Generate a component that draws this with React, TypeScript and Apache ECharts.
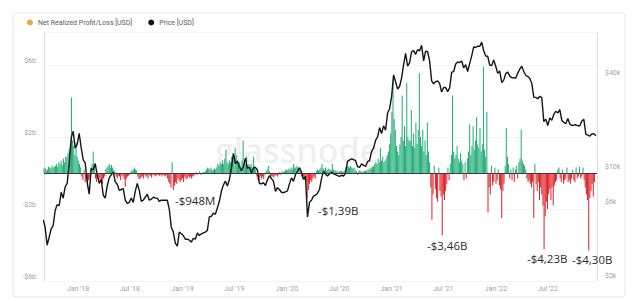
import { useEffect, useRef } from 'react';
import * as echarts from 'echarts';

// ---------- DATA ----------
const NRPL_NAME = 'Net Realized Profit/Loss [USD]';
const PRICE_NAME = 'Price [USD]';

// Net realized profit/loss in $ billions, one value every 4 days from 2017-09-04
const nrplPart1 = [
  0.25, 0.3, 0.15, 0.2, 0.35, 0.3, 0.25, 0.4, 0.3, 0.35,
  0.4, 0.5, 0.35, 0.6, 0.5, 0.7, 0.45, 0.8, 0.6, 0.9,
  0.9, 1.1, 1.3, 1.6, 4.2, 1.8, 1.5, 1.0, 1.7, 0.9,
  0.7, 0.5, 0.3, -0.2, -0.4, 0.2, -0.5, -0.3, -0.75, -0.4,
  -0.3, 0.3, 0.5, 1.2, 0.4, -0.3, -0.5, -0.2, -0.4, -0.3,
  -0.5, -0.6, -0.3, -0.2, 0.2, 0.3, 0.4, 0.5, 0.3, 0.45,
  0.3, 0.2, 0.1, -0.2, -0.3, -0.15, -0.2, -0.4, -0.1, -0.2,
  -0.35, -0.75, -0.3, -0.2, -0.15, -0.1, 0.1, 0.15, 0.2, 0.3,
  0.2, 0.15, -0.2, -0.35, -0.3, -0.25, -0.15, -0.3, -0.1, -0.2,
  -0.2, -0.3, -0.1, -0.15, -0.25, -0.1, -0.1, -0.2, -0.15, -0.1,
  -0.1, -0.15, -0.1, -0.2, -0.1, -0.15, -0.2, -0.1, -0.3, -0.5,
  -0.6, -0.8, 0.6, -0.95, -0.7, -0.5, -0.6, -0.3, -0.4, -0.5,
];
const nrplPart2 = [
  -0.4, -0.3, -0.5, -0.2, -0.3, -0.35, -0.2, -0.25, -0.2, -0.3,
  -0.2, -0.15, -0.1, 0.05, -0.1, -0.05, 0.1, -0.1, -0.05, 0.05,
  0.05, 0.1, 0.2, 0.3, 0.25, 0.2, 0.3, 0.15, 0.2, 0.25,
  0.2, 0.3, 0.5, 0.4, 0.6, 0.5, 0.7, 0.5, 0.8, 1.3,
  0.6, 0.5, 0.7, 0.6, 0.9, 0.7, 0.8, 1.4, 1.0, 0.7,
  0.5, 0.6, 0.4, 0.7, 1.8, 0.6, 0.5, 0.9, 0.4, 0.5,
  0.4, 0.5, 0.3, 0.9, 0.4, 0.2, -0.2, -0.4, -0.3, -0.2,
  -0.3, -0.2, -0.35, -0.1, 0.1, 0.2, 0.4, 0.1, -0.15, -0.2,
  -0.2, -0.25, -0.15, -0.1, -0.2, -0.1, 0.05, -0.1, 0.1, 0.05,
  0.1, 0.15, 0.2, 0.15, 0.25, 0.2, 0.3, 0.2, 0.5, 0.3,
  0.3, 0.4, 0.3, 0.2, 0.1, -0.2, -0.3, -0.2, -0.4, -0.5,
  -1.39, -0.95, -0.6, -0.4, -0.5, -0.3, -0.2, -0.3, 0.1, 0.2,
  0.15, 0.2, 0.3, 0.5, 0.25, 0.2, 0.3, 0.15, 0.2, 0.25,
  0.2, 0.15, 0.5, 0.2, 0.1, 0.15, 0.1, 0.05, 0.1, 0.1,
  0.1, 0.05, 0.1, 0.15, 0.3, 0.4, 0.35, 0.3, 0.4, 0.3,
  0.25, 0.3, 0.15, 0.1, -0.1, 0.1, 0.15, 0.1, 0.05, 0.1,
  0.1, 0.15, 0.1, 0.2, 0.2, 0.3, 0.25, 0.35, 0.4, 0.5,
  0.6, 0.5, 0.8, 0.6, 1.4, 0.7, 0.9, 0.6, 0.7, 0.8,
];
const nrplPart3 = [
  1.0, 1.2, 1.6, 2.2, 3.4, 5.2, 3.0, 2.4, 1.5, 1.2,
  1.0, 1.6, 2.0, 4.3, 1.8, 2.6, 1.5, 5.0, 2.0, 1.8,
  1.8, 3.5, 1.5, 2.2, 1.4, 2.8, 1.6, 2.4, 5.55, 2.0,
  1.5, 2.4, 1.2, 1.8, 1.0, 2.8, 1.2, 0.6, -0.8, -2.6,
  -1.2, 0.4, -0.9, -1.4, -1.6, 0.3, -1.0, -1.3, -3.46, -1.2,
  -1.5, -1.0, -0.6, 0.3, -0.4, 0.5, 1.0, 4.3, 1.2, 0.8,
  1.0, 1.5, 0.8, 0.6, 1.1, 0.7, 0.5, -0.4, 0.6, -0.3,
  0.8, 1.2, 2.7, 1.0, 1.5, 2.6, 1.3, 1.8, 3.1, 1.6,
  1.4, 2.5, 1.2, 1.6, 5.9, 1.3, 0.9, 3.4, -2.2, -0.8,
  -1.2, 0.4, -0.7, -0.5, 0.3, -0.6, -0.4, 0.2, -0.7, -0.9,
  -2.5, -1.0, -0.6, 0.4, 2.5, 0.9, 0.5, -0.3, 0.2, -0.4,
  0.3, -0.5, 0.2, 0.4, -0.3, 0.6, 0.8, 2.4, 0.7, 0.5,
  0.4, 0.2, -0.3, -0.5, -0.4, -0.6, -0.8, -0.5, -2.5, 0.5,
  -0.6, -1.0, -0.5, -1.5, -0.8, -1.2, -1.8, -4.23, -2.4, -1.6,
  -2.0, -1.2, -0.9, -1.5, -0.8, -1.8, -0.7, -0.5, -0.4, 0.2,
  0.3, -0.3, -0.5, 0.2, -0.6, -0.4, -0.3, 0.3, -0.5, -0.4,
  -0.6, -0.3, 0.2, -0.4, -0.5, 0.3, -0.3, -0.2, 0.35, -0.3,
  -0.2, 0.3, -0.4, -0.8, -1.2, -1.5, -4.3, -1.4, -1.0, -0.6,
  -1.3, -0.5,
];

// BTC price (USD), weekly from 2017-09-01
const price2017 = [4800, 4300, 3300, 3700, 4200, 4400, 5500, 6000, 5900, 7200, 6600, 7800, 8200, 10900, 16000, 17700, 13800, 14600];
const price2018 = [
  17200, 13900, 11600, 11100, 8300, 7000, 10200, 10000, 11000, 9300, 8200, 8700, 6900, 6600, 7900, 8900,
  9300, 9700, 8400, 8100, 7400, 7500, 7600, 6400, 6100, 6200, 6600, 6200, 7300, 8200, 7400, 6300,
  6400, 6700, 7000, 6400, 6500, 6700, 6600, 6600, 6300, 6400, 6400, 6400, 6400, 5600, 4300, 4000,
  3400, 3250, 4000, 3900,
];
const price2019 = [
  3800, 3600, 3600, 3550, 3450, 3650, 3600, 3950, 3800, 3900, 3950, 4000, 4100, 5000, 5050, 5300,
  5200, 5700, 6300, 7300, 8000, 8500, 7900, 8700, 10200, 12800, 11000, 11400, 10500, 9900, 10500, 11900,
  10300, 10400, 9600, 10300, 10400, 10000, 8200, 8150, 8300, 7950, 8650, 9200, 8800, 8500, 7300, 7700,
  7500, 7200, 7150, 7250,
];
const price2020 = [
  7350, 8150, 8900, 8450, 9350, 9800, 10350, 9700, 8700, 9100, 5000, 6200, 6400, 6800, 6900, 7100,
  7500, 8800, 9800, 9400, 9150, 9450, 9650, 9450, 9350, 9200, 9100, 9250, 9150, 9550, 11350, 11600,
  11800, 11650, 11500, 10500, 10400, 10950, 10700, 10550, 11300, 11500, 13100, 13800, 15500, 16300, 18700, 17100,
  19200, 18000, 23200, 24700,
];
const price2021 = [
  29400, 40700, 36800, 33000, 34300, 38900, 47400, 55900, 46300, 48800, 57300, 58200, 55100, 59000, 58100, 63000,
  50000, 57800, 57300, 49700, 37300, 35700, 36900, 37300, 35800, 31600, 33800, 33800, 31800, 33600, 42200, 42800,
  47800, 49300, 48900, 50000, 45200, 47300, 42800, 48200, 53900, 61500, 61000, 62200, 62000, 66000, 58100, 53700,
  53600, 47100, 46700, 50800, 46200,
];
const price2022 = [
  41600, 43100, 36300, 37700, 41500, 42400, 40000, 39100, 39000, 38800, 41800, 44300, 46300, 42800, 40500, 39700,
  38600, 36000, 29300, 29200, 28600, 29700, 29100, 20400, 21200, 19300, 21600, 20800, 22700, 23800, 23200, 24400,
  20800, 20200, 19800, 21400, 19700, 19300, 19400, 19500, 19200, 19200, 20600, 21100, 17000, 16700, 16500, 17000,
  17100, 16600,
];

const leftTickValues = [-6, -2, 2, 6];
const leftTickLabels = ['-$6b', '-$2b', '$2b', '$6b'];
const priceTickValues = [2000, 6000, 10000, 40000];
const priceTickLabels = ['$2k', '$6k', '$10k', '$40k'];
const xTickDates: [number, number][] = [
  [2018, 0], [2018, 6], [2019, 0], [2019, 6], [2020, 0], [2020, 6], [2021, 0], [2021, 6], [2022, 0], [2022, 6],
];
const MONTHS = ['Jan', 'Feb', 'Mar', 'Apr', 'May', 'Jun', 'Jul', 'Aug', 'Sep', 'Oct', 'Nov', 'Dec'];
const annotations = ['-$948M', '-$1,39B', '-$3,46B', '-$4,23B', '-$4,30B'];

// ---------- BUILD ----------
const nrplValues = [...nrplPart1, ...nrplPart2, ...nrplPart3];
const priceValues = [...price2017, ...price2018, ...price2019, ...price2020, ...price2021, ...price2022];
const nrplData = nrplValues.map((v, i) => [new Date(2017, 8, 4 + 4 * i).getTime(), v]);
const priceData = priceValues.map((v, i) => [new Date(2017, 8, 1 + 7 * i).getTime(), v]);
const xTickValues = xTickDates.map(([y, m]) => new Date(y, m, 1).getTime());

const GREEN = '#1fab74';
const RED = '#dc1f26';
const ORANGE = '#f2a53c';
const LABEL = '#a3a3a3';
const FONT = 'Roboto';

const annotationPos = [
  [175, 200], [318, 210], [427, 245], [527, 258], [572, 259],
];

export default function App() {
  const ref = useRef<HTMLDivElement>(null);
  useEffect(() => {
    if (!ref.current) return;
    const chart = echarts.init(ref.current, null, { renderer: 'svg' });
    const option: any = {
      animation: false,
      backgroundColor: '#ffffff',
      textStyle: { fontFamily: FONT },
      legend: {
        left: 27,
        top: 19,
        padding: 0,
        itemGap: 16,
        itemWidth: 6,
        itemHeight: 6,
        textStyle: { fontSize: 7, color: '#5a5a5a', fontFamily: FONT },
        data: [
          { name: NRPL_NAME, icon: 'circle', itemStyle: { color: ORANGE } },
          { name: PRICE_NAME, icon: 'circle', itemStyle: { color: '#111111' } },
        ],
      },
      grid: { left: 44, width: 553, top: 32, height: 249, containLabel: false },
      xAxis: {
        type: 'value',
        min: new Date(2017, 8, 4).getTime(),
        max: new Date(2022, 11, 20).getTime(),
        axisLine: { show: false },
        axisTick: { show: false },
        splitLine: { show: false },
        axisLabel: {
          customValues: xTickValues,
          fontSize: 7,
          color: LABEL,
          margin: 4,
          fontFamily: FONT,
          formatter: (val: number) => {
            const d = new Date(val);
            return MONTHS[d.getMonth()] + " '" + String(d.getFullYear()).slice(2);
          },
        },
      },
      yAxis: [
        {
          type: 'value',
          min: -6,
          max: -6 + 249 / 18,
          interval: 4,
          position: 'left',
          axisLine: { show: true, lineStyle: { color: '#dedede' } },
          axisTick: { show: false },
          splitLine: { show: true, lineStyle: { color: '#f4f4f4' } },
          axisLabel: {
            fontSize: 7,
            color: LABEL,
            margin: 8,
            verticalAlign: 'bottom',
            lineHeight: 8,
            fontFamily: FONT,
            formatter: (v: number) => {
              const idx = leftTickValues.findIndex((t) => Math.abs(t - v) < 1e-6);
              return idx >= 0 ? leftTickLabels[idx] : '';
            },
          },
        },
        {
          type: 'log',
          logBase: 10,
          min: 1943,
          max: 76660,
          position: 'right',
          axisLine: { show: true, lineStyle: { color: '#dedede' } },
          axisTick: { show: false },
          splitLine: { show: false },
          axisLabel: { show: false },
        },
      ],
      series: [
        {
          name: NRPL_NAME,
          type: 'bar',
          yAxisIndex: 0,
          barWidth: 0.95,
          data: nrplData,
          z: 2,
          itemStyle: {
            color: (p: any) => (p.value[1] >= 0 ? GREEN : RED),
          },
          markLine: {
            silent: true,
            symbol: ['none', 'none'],
            label: { show: false },
            lineStyle: { color: '#3a3a3a', width: 1, type: 'solid' },
            data: [{ yAxis: 0 }],
          },
        },
        {
          name: PRICE_NAME,
          type: 'line',
          yAxisIndex: 1,
          data: priceData,
          showSymbol: false,
          symbol: 'none',
          z: 4,
          lineStyle: { color: '#151515', width: 1.4 },
          itemStyle: { color: '#151515' },
        },
      ],
    };
    chart.setOption(option);

    const graphics: any[] = [
      {
        type: 'rect',
        z: 0,
        silent: true,
        shape: { x: 13, y: 13, width: 612, height: 284, r: 3 },
        style: { fill: 'none', stroke: '#e6e6e6', lineWidth: 1 },
      },
      {
        type: 'text',
        z: 1,
        silent: true,
        x: 215,
        y: 150,
        style: {
          text: 'glassnode',
          fontSize: 34,
          fontFamily: 'Open Sans',
          fontWeight: 600,
          fill: 'rgba(0,0,0,0.07)',
          verticalAlign: 'middle',
        },
      },
    ];
    annotations.forEach((t, i) => {
      graphics.push({
        type: 'text',
        z: 100,
        silent: true,
        x: annotationPos[i][0],
        y: annotationPos[i][1],
        style: {
          text: t,
          fontSize: 11.5,
          fontFamily: 'Open Sans',
          fill: '#2b2b2b',
          verticalAlign: 'middle',
        },
      });
    });
    priceTickValues.forEach((v, i) => {
      const y = chart.convertToPixel({ yAxisIndex: 1 } as any, v) as unknown as number;
      graphics.push({
        type: 'text',
        z: 100,
        silent: true,
        x: 605,
        y: y - 3,
        style: {
          text: priceTickLabels[i],
          fontSize: 7,
          fontFamily: FONT,
          fill: LABEL,
          verticalAlign: 'middle',
        },
      });
    });
    chart.setOption({ graphic: graphics });

    return () => chart.dispose();
  }, []);
  return (
    <div
      ref={ref}
      style={{ position: 'absolute', left: 0, top: 0, width: 640, height: 301, background: '#fff' }}
    />
  );
}
